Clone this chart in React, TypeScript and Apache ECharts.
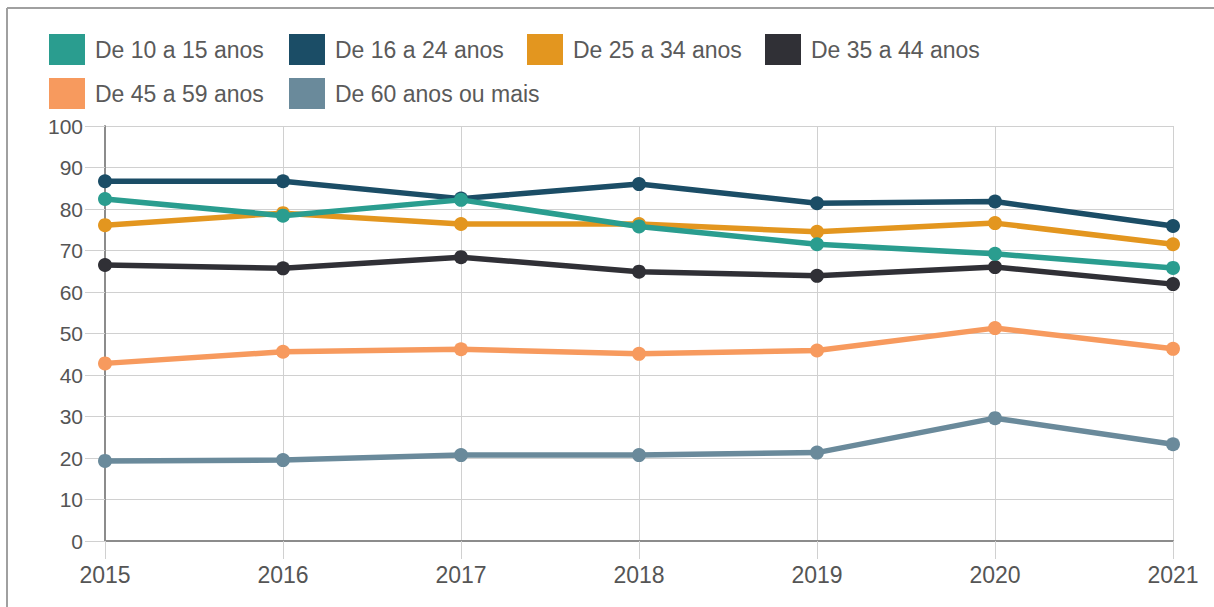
import React, { useEffect, useRef } from "react";
import * as echarts from "echarts";

const years = ["2015", "2016", "2017", "2018", "2019", "2020", "2021"];
const seriesNames = [
  "De 10 a 15 anos",
  "De 16 a 24 anos",
  "De 25 a 34 anos",
  "De 35 a 44 anos",
  "De 45 a 59 anos",
  "De 60 anos ou mais",
];
const age10to15 = [82.4, 78.4, 82.2, 75.8, 71.5, 69.2, 65.8];
const age16to24 = [86.7, 86.7, 82.5, 86.0, 81.4, 81.8, 75.9];
const age25to34 = [76.1, 79.0, 76.4, 76.4, 74.5, 76.6, 71.5];
const age35to44 = [66.5, 65.7, 68.4, 64.9, 63.9, 66.0, 61.9];
const age45to59 = [42.8, 45.6, 46.2, 45.1, 45.9, 51.3, 46.3];
const age60plus = [19.3, 19.5, 20.7, 20.7, 21.3, 29.6, 23.3];
const yTicks = [0, 10, 20, 30, 40, 50, 60, 70, 80, 90, 100];

const colors = ["#2a9d8f", "#1b4d66", "#e3961f", "#303036", "#f79a5e", "#6a8a9b"];
const legendPos = [
  [49, 34],
  [289, 34],
  [527, 34],
  [765, 34],
  [49, 78],
  [289, 78],
];

export default function App() {
  const ref = useRef<HTMLDivElement>(null);
  useEffect(() => {
    if (!ref.current) return;
    const chart = echarts.init(ref.current, null, { renderer: "svg" });
    const allData = [age10to15, age16to24, age25to34, age35to44, age45to59, age60plus];
    const font = "'Liberation Sans', Arial, sans-serif";
    chart.setOption({
      animation: false,
      backgroundColor: "#ffffff",
      color: colors,
      textStyle: { fontFamily: font },
      legend: seriesNames.map((n, i) => ({
        data: [n],
        left: legendPos[i][0],
        top: legendPos[i][1],
        padding: 0,
        icon: "rect",
        itemWidth: 36,
        itemHeight: 31,
        selectedMode: false,
        textStyle: { fontSize: 23, color: "#5a5a5a", fontFamily: font, padding: [0, 0, 0, 5] },
      })),
      grid: { left: 105, right: 41, top: 126, bottom: 66, containLabel: false },
      xAxis: {
        type: "category",
        data: years,
        boundaryGap: false,
        axisLine: { show: true, lineStyle: { color: "#8c8c8c", width: 2 } },
        axisTick: { show: true, length: 18, lineStyle: { color: "#d0d0d0", width: 1 } },
        axisLabel: { color: "#555", fontSize: 23, margin: 22, fontFamily: font },
        splitLine: { show: true, lineStyle: { color: "#d0d0d0", width: 1 } },
      },
      yAxis: {
        type: "value",
        min: yTicks[0],
        max: yTicks[yTicks.length - 1],
        interval: 10,
        axisLine: { show: true, lineStyle: { color: "#8c8c8c", width: 2 } },
        axisTick: { show: true, length: 20, lineStyle: { color: "#d0d0d0", width: 1 } },
        axisLabel: { color: "#555", fontSize: 21, margin: 22, fontFamily: font },
        splitLine: { show: true, lineStyle: { color: "#d0d0d0", width: 1 } },
      },
      graphic: [
        { type: "line", shape: { x1: 7, y1: 8, x2: 1214, y2: 8 }, style: { stroke: "#a0a0a0", lineWidth: 2 }, z: 100 },
        { type: "line", shape: { x1: 7, y1: 8, x2: 7, y2: 607 }, style: { stroke: "#a0a0a0", lineWidth: 2 }, z: 100 },
      ],
      series: seriesNames.map((n, i) => ({
        name: n,
        type: "line",
        data: allData[i],
        z: 10 - i,
        symbol: "circle",
        symbolSize: 14,
        lineStyle: { width: 5.5, color: colors[i] },
        itemStyle: { color: colors[i] },
      })),
    });
    return () => chart.dispose();
  }, []);
  return (
    <div
      ref={ref}
      style={{ position: "absolute", left: 0, top: 0, width: 1214, height: 607 }}
    />
  );
}
